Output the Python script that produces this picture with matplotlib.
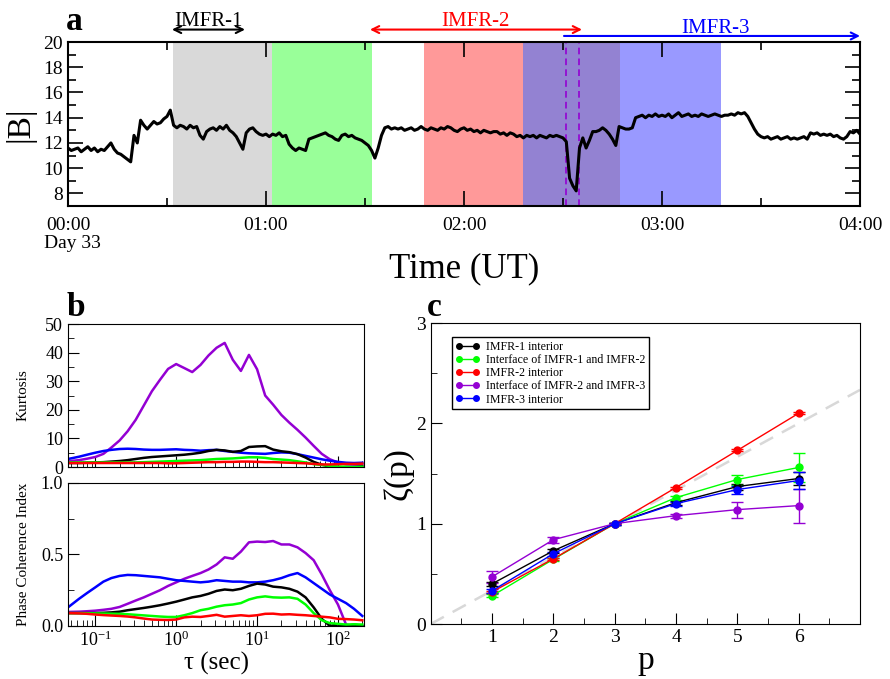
import matplotlib
matplotlib.use("Agg")
import matplotlib.pyplot as plt
import numpy as np
from matplotlib.lines import Line2D
from matplotlib.ticker import MultipleLocator, FixedLocator, LogLocator, NullFormatter, FuncFormatter

plt.rcParams['font.family'] = ['Liberation Serif', 'DejaVu Serif']
plt.rcParams['mathtext.fontset'] = 'stix'

# ---- panel a: |B| at one-minute steps, 00:00 - 04:00 UT
b_mag = [
    11.6, 11.4, 11.5, 11.6, 11.3, 11.5, 11.7, 11.4, 11.6, 11.3,
    11.5, 11.4, 11.7, 12.0, 11.5, 11.2, 11.1, 10.9, 10.7, 10.5,
    12.6, 12.0, 13.8, 13.4, 13.1, 13.4, 13.7, 13.5, 13.6, 13.9,
    14.1, 14.6, 13.4, 13.2, 13.4, 13.3, 13.1, 13.4, 13.2, 13.3,
    12.6, 12.3, 12.9, 13.1, 13.2, 13.0, 13.3, 13.1, 13.4, 13.0,
    12.8, 12.5, 12.0, 11.5, 12.8, 13.1, 13.2, 12.9, 12.7, 12.6,
    12.7, 12.5, 12.7, 12.6, 12.8, 12.5, 12.6, 11.9, 11.6, 11.4,
    11.6, 11.5, 11.4, 12.3, 12.4, 12.5, 12.6, 12.7, 12.8, 12.6,
    12.5, 12.3, 12.2, 12.6, 12.7, 12.5, 12.6, 12.4, 12.3, 12.2,
    12.0, 11.8, 11.4, 10.8, 11.6, 12.6, 13.2, 13.3, 13.1, 13.2,
    13.1, 13.2, 13.0, 13.1, 13.2, 13.0, 13.1, 13.3, 13.1, 13.0,
    13.2, 13.1, 13.0, 13.2, 13.1, 13.3, 13.2, 13.0, 12.9, 13.1,
    13.2, 13.0, 13.1, 12.9, 13.0, 12.8, 13.0, 12.9, 12.8, 12.9,
    12.9, 12.7, 12.8, 12.6, 12.8, 12.7, 12.5, 12.6, 12.4, 12.6,
    12.5, 12.6, 12.4, 12.6, 12.5, 12.4, 12.6, 12.5, 12.6, 12.5,
    12.4, 12.1, 9.2, 8.6, 8.2, 11.6, 12.4, 11.6, 12.2, 12.9,
    12.9, 13.0, 13.2, 13.0, 12.7, 12.3, 11.8, 13.3, 13.2, 13.1,
    13.1, 13.2, 14.0, 14.1, 14.2, 14.0, 14.2, 14.1, 14.3, 14.1,
    14.2, 14.1, 14.3, 14.0, 14.2, 14.4, 14.1, 14.2, 14.3, 14.1,
    14.2, 14.1, 14.3, 14.2, 14.1, 14.2, 14.3, 14.2, 14.1, 14.2,
    14.2, 14.3, 14.2, 14.4, 14.3, 14.4, 14.1, 13.6, 13.1, 12.7,
    12.5, 12.4, 12.5, 12.3, 12.4, 12.5, 12.3, 12.4, 12.5, 12.3,
    12.4, 12.3, 12.4, 12.5, 12.3, 12.8, 12.7, 12.8, 12.6, 12.7,
    12.6, 12.7, 12.5, 12.6, 12.4, 12.3, 12.5, 12.9, 12.8, 13.0, 12.7,
]
# shaded intervals (hours) and colours
span_start = [0.53, 1.03, 1.80, 2.30, 2.79]
span_end = [1.03, 1.535, 2.30, 2.79, 3.30]
span_colors = ['#d9d9d9', '#99ff99', '#ff9999', '#9382d2', '#9999ff']
dash_times = [2.515, 2.583]
imfr_names = ['IMFR-1', 'IMFR-2', 'IMFR-3']
imfr_from = [0.525, 1.525, 2.505]
imfr_to = [0.894, 2.596, 4.0]
imfr_colors = ['black', 'red', 'blue']

# ---- panel b: kurtosis and phase coherence index vs tau (sec)
tau = [0.046, 0.063, 0.079, 0.1, 0.126, 0.158, 0.2, 0.251, 0.316, 0.398,
       0.501, 0.631, 0.794, 1.0, 1.26, 1.58, 2.0, 2.51, 3.16, 3.98,
       5.01, 6.31, 7.94, 10.0, 12.6, 15.8, 20.0, 25.1, 31.6, 39.8,
       50.1, 63.1, 79.4, 100, 126, 158, 200]
kurt_black = [1.4, 1.4, 1.5, 1.6, 1.7, 1.9, 2.1, 2.4, 2.8, 3.2, 3.5, 3.7, 3.9, 4.1, 4.3,
              4.6, 5.0, 5.6, 6.0, 5.8, 5.3, 5.6, 7.0, 7.2, 7.3, 6.1, 5.5, 5.2, 4.5, 3.3,
              1.8, 0.8, 0.2, 0.0, -0.2, -0.1, 0.2]
kurt_green = [1.6, 1.6, 1.6, 1.6, 1.6, 1.6, 1.6, 1.6, 1.6, 1.7, 1.8, 1.9, 2.0, 2.1, 2.2,
              2.3, 2.4, 2.6, 2.8, 2.9, 3.0, 3.2, 3.4, 3.4, 3.2, 2.8, 2.6, 2.4, 2.0, 1.6,
              1.0, 0.7, 0.4, 0.2, 0.1, 0.0, 0.1]
kurt_red = [1.4, 1.4, 1.4, 1.4, 1.4, 1.4, 1.4, 1.4, 1.4, 1.4, 1.4, 1.4, 1.3, 1.3, 1.4,
            1.5, 1.6, 1.7, 1.7, 1.8, 1.8, 1.9, 1.9, 1.8, 1.7, 1.7, 1.6, 1.5, 1.4, 1.3,
            1.1, 0.9, 0.9, 1.0, 1.1, 1.1, 1.2]
kurt_purple = [2.0, 2.4, 2.9, 3.5, 4.6, 6.8, 9.3, 12.5, 16.5, 21.5, 26.5, 30.5, 34.3, 36.0, 34.6,
               33.2, 35.7, 39.0, 41.7, 43.4, 37.5, 33.6, 39.2, 34.2, 25.0, 21.8, 18.2, 15.5, 13.0, 10.3,
               7.4, 4.6, 2.7, 1.6, 0.9, 0.8, 0.8]
kurt_blue = [2.8, 3.6, 4.3, 5.0, 5.6, 6.0, 6.3, 6.4, 6.3, 6.1, 6.0, 6.0, 6.1, 6.2, 6.0,
             5.9, 5.7, 5.9, 6.0, 5.6, 5.3, 5.0, 4.8, 4.7, 4.6, 4.9, 5.1, 5.0, 4.5, 3.9,
             3.3, 2.7, 2.2, 1.8, 1.5, 1.4, 1.5]
pci_black = [0.09, 0.09, 0.09, 0.09, 0.092, 0.095, 0.1, 0.11, 0.118, 0.126, 0.135, 0.145, 0.157,
             0.17, 0.185, 0.2, 0.21, 0.225, 0.245, 0.255, 0.25, 0.26, 0.28, 0.296, 0.29, 0.275,
             0.27, 0.26, 0.24, 0.2, 0.13, 0.05, 0.0, 0.01, 0.0, 0.01, 0.0]
pci_green = [0.09, 0.09, 0.089, 0.088, 0.087, 0.086, 0.085, 0.082, 0.078, 0.074, 0.07, 0.066,
             0.063, 0.063, 0.075, 0.09, 0.11, 0.12, 0.135, 0.145, 0.15, 0.16, 0.185, 0.2, 0.207,
             0.2, 0.198, 0.2, 0.19, 0.15, 0.09, 0.04, 0.02, 0.015, 0.01, 0.012, 0.01]
pci_red = [0.09, 0.088, 0.085, 0.08, 0.076, 0.073, 0.07, 0.066, 0.06, 0.052, 0.045, 0.043,
           0.042, 0.045, 0.06, 0.065, 0.063, 0.07, 0.078, 0.065, 0.07, 0.075, 0.07, 0.075,
           0.085, 0.086, 0.08, 0.082, 0.078, 0.075, 0.07, 0.065, 0.06, 0.05, 0.048, 0.045, 0.04]
pci_purple = [0.098, 0.1, 0.103, 0.107, 0.113, 0.12, 0.133, 0.155, 0.178, 0.2, 0.225, 0.25,
              0.28, 0.305, 0.33, 0.35, 0.37, 0.395, 0.43, 0.48, 0.47, 0.52, 0.585, 0.59,
              0.587, 0.594, 0.57, 0.57, 0.55, 0.51, 0.46, 0.36, 0.25, 0.15, 0.01, 0.0, 0.0]
pci_blue = [0.13, 0.19, 0.23, 0.27, 0.31, 0.335, 0.35, 0.357, 0.355, 0.35, 0.345, 0.34, 0.33,
            0.32, 0.315, 0.31, 0.305, 0.31, 0.32, 0.315, 0.31, 0.31, 0.305, 0.305, 0.31, 0.32,
            0.335, 0.355, 0.37, 0.34, 0.30, 0.26, 0.22, 0.19, 0.16, 0.12, 0.07]

# ---- panel c: scaling exponents zeta(p)
p_order = [1, 2, 3, 4, 5, 6]
series_names = ['IMFR-1 interior', 'Interface of IMFR-1 and IMFR-2', 'IMFR-2 interior',
                'Interface of IMFR-2 and IMFR-3', 'IMFR-3 interior']
series_colors = ['black', '#00ff00', 'red', '#9400d3', 'blue']
zeta = [
    [0.40, 0.73, 1.0, 1.21, 1.37, 1.45],
    [0.28, 0.645, 1.0, 1.26, 1.44, 1.56],
    [0.32, 0.65, 1.0, 1.36, 1.73, 2.10],
    [0.47, 0.84, 1.0, 1.08, 1.14, 1.18],
    [0.33, 0.70, 1.0, 1.20, 1.34, 1.43],
]
zeta_err = [
    [0.02, 0.02, 0.01, 0.02, 0.03, 0.06],
    [0.015, 0.015, 0.01, 0.02, 0.05, 0.14],
    [0.01, 0.01, 0.005, 0.01, 0.01, 0.01],
    [0.06, 0.03, 0.01, 0.02, 0.08, 0.17],
    [0.02, 0.02, 0.01, 0.02, 0.04, 0.08],
]

fig = plt.figure(figsize=(8.9, 6.79), dpi=100)

# ================= panel a
ax = fig.add_axes([0.0764, 0.6966, 0.8899, 0.2415])
t_hours = np.arange(len(b_mag)) / 60.0
for s, e, c in zip(span_start, span_end, span_colors):
    ax.axvspan(s, e, color=c, lw=0, zorder=0)
for d in dash_times:
    ax.axvline(d, color='#9400d3', lw=1.2, ls=(0, (4, 2.5)), zorder=1)
ax.plot(t_hours, b_mag, color='black', lw=2.2, zorder=2)
ax.set_xlim(0, 4)
ax.set_ylim(7, 20)
ax.xaxis.set_major_locator(MultipleLocator(1))
ax.xaxis.set_minor_locator(MultipleLocator(0.5))
ax.xaxis.set_major_formatter(FuncFormatter(lambda v, pos: '%02d:00' % int(round(v))))
ax.yaxis.set_minor_locator(MultipleLocator(1))
ax.set_yticks([8, 10, 12, 14, 16, 18, 20])
ax.tick_params(which='both', direction='in', top=True, right=True, labelsize=14, width=1.2)
ax.tick_params(which='major', length=11)
ax.tick_params(which='minor', length=5.5)
ax.tick_params(axis='x', pad=8)
for sp in ax.spines.values():
    sp.set_linewidth(1.5)
ax.set_ylabel('|B|', fontsize=24, labelpad=6)
for name, t0, t1, col in zip(imfr_names, imfr_from, imfr_to, imfr_colors):
    yy = 1.037 if name == 'IMFR-3' else 1.076
    style = '<-' if name == 'IMFR-3' else '<->'
    ax.annotate('', xy=(t0, yy), xytext=(t1, yy), xycoords=('data', 'axes fraction'),
                textcoords=('data', 'axes fraction'), annotation_clip=False,
                arrowprops=dict(arrowstyle=style + ',head_length=0.5,head_width=0.25',
                                color=col, lw=1.5, shrinkA=0, shrinkB=0))
ax.text(0.71, 1.1, 'IMFR-1', transform=ax.get_xaxis_transform(), color='black',
        fontsize=15, ha='center', va='baseline')
ax.text(2.06, 1.1, 'IMFR-2', transform=ax.get_xaxis_transform(), color='red',
        fontsize=15, ha='center', va='baseline')
ax.text(3.27, 1.057, 'IMFR-3', transform=ax.get_xaxis_transform(), color='blue',
        fontsize=15, ha='center', va='baseline')
fig.text(0.074, 0.956, 'a', fontsize=24, fontweight='bold', va='baseline')
fig.text(0.081, 0.642, 'Day 33', fontsize=14, ha='center', va='center')
fig.text(0.521, 0.604, 'Time (UT)', fontsize=25, ha='center', va='center')

# ================= panel b
axk = fig.add_axes([0.0764, 0.3122, 0.3326, 0.2106])
axp = fig.add_axes([0.0764, 0.0781, 0.3326, 0.2106], sharex=axk)
kurt = [kurt_purple, kurt_blue, kurt_black, kurt_green, kurt_red]
pci = [pci_purple, pci_blue, pci_black, pci_green, pci_red]
bcols = ['#9400d3', 'blue', 'black', '#00ff00', 'red']
for k, c in zip(kurt, bcols):
    axk.plot(tau, k, color=c, lw=1.8)
for v, c in zip(pci, bcols):
    axp.plot(tau, v, color=c, lw=1.8)
axk.set_xscale('log')
axk.set_xlim(0.046, 210)
axk.set_ylim(0, 50)
axk.yaxis.set_major_locator(MultipleLocator(10))
axk.yaxis.set_minor_locator(MultipleLocator(5))
axp.set_ylim(0, 1)
axp.yaxis.set_major_locator(MultipleLocator(0.5))
axp.yaxis.set_minor_locator(MultipleLocator(0.25))
axp.yaxis.set_major_formatter(FuncFormatter(lambda v, pos: '%.1f' % v))
for a_ in (axk, axp):
    a_.xaxis.set_major_locator(LogLocator(base=10))
    a_.xaxis.set_minor_locator(LogLocator(base=10, subs=np.arange(2, 10)))
    a_.xaxis.set_minor_formatter(NullFormatter())
    a_.tick_params(which='both', direction='in', labelsize=13)
    a_.tick_params(which='major', length=8)
    a_.tick_params(which='minor', length=4)
plt.setp(axk.get_xticklabels(), visible=False)
axk.set_ylabel('Kurtosis', fontsize=11)
axp.set_ylabel('Phase Coherence Index', fontsize=11)
axp.set_xlabel('τ (sec)', fontsize=18, labelpad=1)
axk.yaxis.set_label_coords(-0.13, 0.5)
axp.yaxis.set_label_coords(-0.13, 0.5)
fig.text(0.075, 0.535, 'b', fontsize=24, fontweight='bold', va='baseline')

# ================= panel c
axc = fig.add_axes([0.4839, 0.0810, 0.4824, 0.4433])
axc.plot([0, 7], [0, 7 / 3.0], color='#d8d8d8', lw=1.8, ls=(0, (6, 4)), zorder=1)
handles = []
for z, e, c, n in zip(zeta, zeta_err, series_colors, series_names):
    axc.errorbar(p_order, z, yerr=e, color=c, lw=1, marker='o', ms=5, capsize=4,
                 elinewidth=1, capthick=1, zorder=3)
    handles.append(Line2D([], [], color=c, lw=1, marker='o', ms=4, label=n))
axc.set_xlim(0, 7)
axc.set_ylim(0, 3)
axc.xaxis.set_major_locator(FixedLocator(p_order))
axc.xaxis.set_minor_locator(FixedLocator([0.5, 1.5, 2.5, 3.5, 4.5, 5.5, 6.5]))
axc.yaxis.set_major_locator(MultipleLocator(1))
axc.yaxis.set_minor_locator(MultipleLocator(0.5))
axc.tick_params(which='both', direction='in', labelsize=14)
axc.tick_params(which='major', length=8)
axc.tick_params(which='minor', length=4)
axc.set_xlabel('p', fontsize=24, labelpad=0)
axc.set_ylabel('ζ(p)', fontsize=24, labelpad=2)
leg = axc.legend(handles=handles, loc='upper left', bbox_to_anchor=(0.049, 0.953),
                 borderaxespad=0, fontsize=8.6, fancybox=False, edgecolor='black',
                 framealpha=1, numpoints=2, handlelength=2.0, labelspacing=0.1,
                 borderpad=0.3, handletextpad=0.6)
leg.get_frame().set_linewidth(1)
fig.text(0.48, 0.535, 'c', fontsize=24, fontweight='bold', va='baseline')

fig.savefig('out.png', dpi=100)
